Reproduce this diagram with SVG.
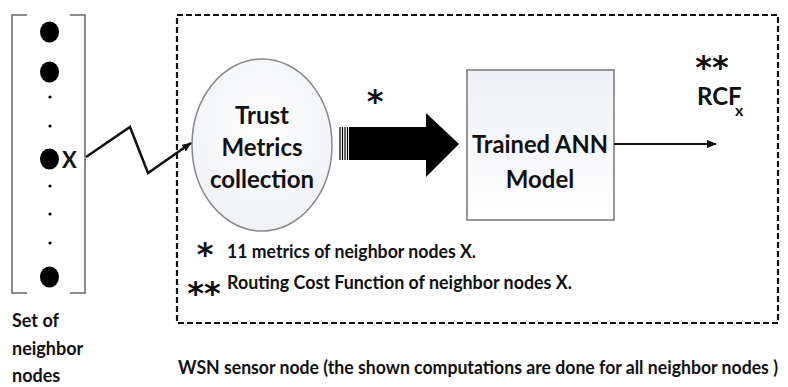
<svg xmlns="http://www.w3.org/2000/svg" width="788" height="387" viewBox="0 0 788 387">
<style>
.t{font-family:Lato,"Open Sans","Liberation Sans",sans-serif;font-weight:bold;fill:#111}
.big{font-size:24px}
.mid{font-size:18px}
.lab{font-size:18px}
.ast{font-family:"DejaVu Sans",sans-serif;font-weight:bold;font-size:32px;fill:#111;text-anchor:middle}
</style>
<defs>
<radialGradient id="g" cx="0.5" cy="0.4" r="0.7">
<stop offset="0" stop-color="#ffffff"/>
<stop offset="1" stop-color="#eef0f4"/>
</radialGradient>
<linearGradient id="gb" x1="0" y1="0" x2="0" y2="1">
<stop offset="0" stop-color="#eef0f5"/>
<stop offset="1" stop-color="#ffffff"/>
</linearGradient>
<marker id="ah" markerWidth="10" markerHeight="8" refX="9" refY="4" orient="auto" markerUnits="userSpaceOnUse">
<path d="M0,0 L10,4 L0,8 Z" fill="#111"/>
</marker>
</defs>
<rect width="788" height="387" fill="#fff"/>

<g id="neighbors">
<path d="M27,15 H12 V293 H27 M70,15 H85 V293 H70" fill="none" stroke="#666" stroke-width="1.5"/>
<ellipse cx="49.5" cy="32" rx="9.5" ry="10.5" fill="#000"/>
<ellipse cx="49.5" cy="72" rx="9.5" ry="10.5" fill="#000"/>
<ellipse cx="49.5" cy="159" rx="9.5" ry="10.5" fill="#000"/>
<ellipse cx="49.5" cy="277" rx="9.5" ry="10.5" fill="#000"/>
<circle cx="50" cy="97" r="1.6" fill="#000"/>
<circle cx="50" cy="126" r="1.6" fill="#000"/>
<circle cx="50" cy="186" r="1.6" fill="#000"/>
<circle cx="50" cy="214" r="1.6" fill="#000"/>
<circle cx="50" cy="243" r="1.6" fill="#000"/>
<text class="t" x="62" y="168" font-size="22">X</text>
<text class="t lab" x="12" y="327">Set of</text>
<text class="t lab" x="12" y="355">neighbor</text>
<text class="t lab" x="12" y="382">nodes</text>
</g>

<g id="wsn-node">
<rect x="177" y="15" width="601" height="308" fill="none" stroke="#111" stroke-width="2.2" stroke-dasharray="6,3"/>
<text class="t lab" x="178" y="374" textLength="600" lengthAdjust="spacingAndGlyphs">WSN sensor node (the shown computations are done for all neighbor nodes )</text>
</g>

<g id="trust-metrics">
<ellipse cx="262" cy="145" rx="70" ry="86" fill="url(#g)" stroke="#888" stroke-width="1.5"/>
<text class="t big" x="262" y="124" text-anchor="middle">Trust</text>
<text class="t big" x="262" y="156" text-anchor="middle">Metrics</text>
<text class="t big" x="262" y="188" text-anchor="middle">collection</text>
</g>

<g id="ann-model">
<rect x="467" y="70" width="147" height="150" fill="url(#gb)" stroke="#777" stroke-width="1.5"/>
<text class="t big" x="540" y="153" text-anchor="middle" textLength="136" lengthAdjust="spacingAndGlyphs">Trained ANN</text>
<text class="t big" x="540" y="188" text-anchor="middle">Model</text>
</g>

<g id="labels">
<text class="ast" x="375" y="112">*</text>
<text class="ast" x="712" y="78">**</text>
<text class="t big" x="697" y="105">RCF</text>
<text class="t" x="735" y="116" font-size="16" font-weight="normal">x</text>
<text class="ast" x="205" y="265">*</text>
<text class="t mid" x="227" y="258" textLength="249" lengthAdjust="spacingAndGlyphs">11 metrics of neighbor nodes X.</text>
<text class="ast" x="204" y="304">**</text>
<text class="t mid" x="227" y="289" textLength="345" lengthAdjust="spacingAndGlyphs">Routing  Cost Function of neighbor nodes X.</text>
</g>

<g id="connectors">
<polyline points="86,157 130,127 148,173 191,143" fill="none" stroke="#111" stroke-width="2.5" marker-end="url(#ah)"/>
<path d="M349,127 H426 V113 L459,144 L426,177 V160 H349 Z" fill="#000"/>
<path d="M340,127 V160 M342.5,127 V160 M345,127 V160 M347.5,127 V160" stroke="#000" stroke-width="1.2"/>
<line x1="614" y1="144" x2="716" y2="144" stroke="#111" stroke-width="1.8" marker-end="url(#ah)"/>
</g>
</svg>
